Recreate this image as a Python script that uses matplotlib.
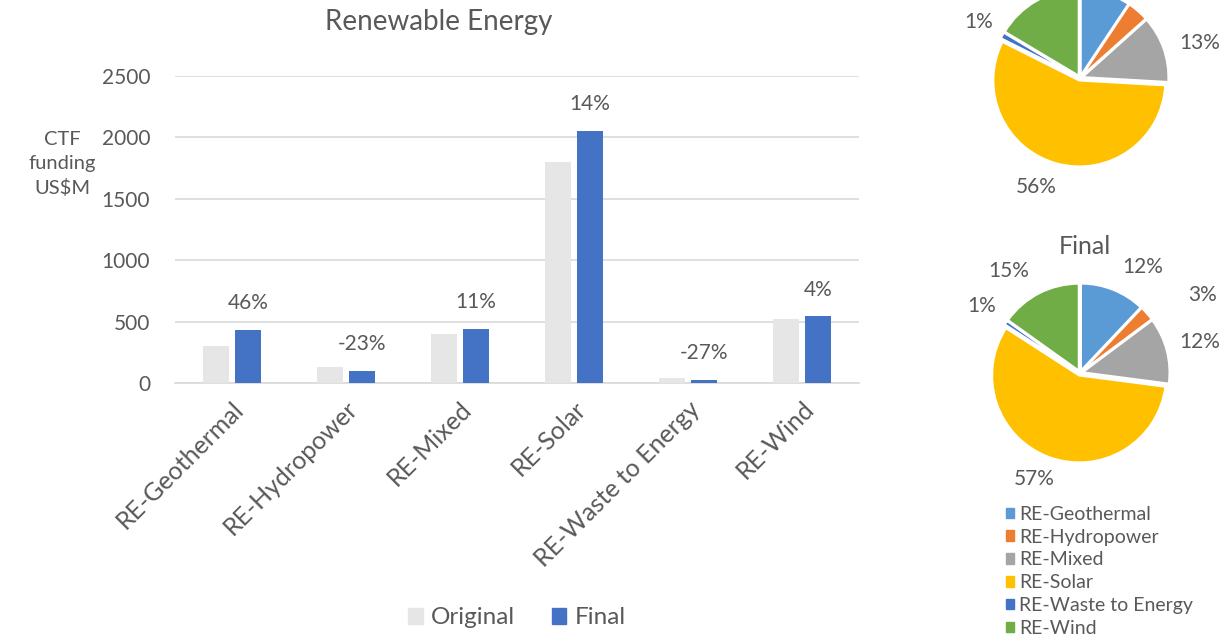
import matplotlib.pyplot as plt
import numpy as np
from matplotlib.patches import Patch

# data
categories = ["RE-Geothermal", "RE-Hydropower", "RE-Mixed", "RE-Solar",
              "RE-Waste to Energy", "RE-Wind"]
original = [298, 128, 399, 1800, 37, 524]
final = [434, 99, 442, 2055, 27, 545]
y_ticks = [0, 500, 1000, 1500, 2000, 2500]

pie_colors = ["#5B9BD5", "#ED7D31", "#A5A5A5", "#FFC000", "#4472C4", "#70AD47"]
ORIG_COLOR = "#E7E6E6"
FINAL_COLOR = "#4472C4"
TEXT = "#595959"

plt.rcParams["font.family"] = ["Lato", "DejaVu Sans"]

W, H = 1229, 639
fig = plt.figure(figsize=(W / 100, H / 100), dpi=100)


def px_axes(left, top, right, bottom):
    return fig.add_axes([left / W, 1 - bottom / H, (right - left) / W, (bottom - top) / H])


# ---- bar chart ----
ax = px_axes(175, 76, 859, 383)
x = np.arange(len(categories))
w = 0.225
ax.bar(x - 0.14, original, w, color=ORIG_COLOR, zorder=3)
ax.bar(x + 0.14, final, w, color=FINAL_COLOR, zorder=3)

for xi, o, f in zip(x, original, final):
    change = (f - o) / o * 100
    ax.annotate(f"{change:.0f}%", (xi + 0.14, f), xytext=(0, 19), textcoords="offset points",
                ha="center", va="center", fontsize=15, color=TEXT)

ax.set_xlim(-0.5, len(categories) - 0.5)
ax.set_ylim(0, 2500)
ax.set_yticks(y_ticks)
ax.set_xticks(x)
ax.set_xticklabels(categories, rotation=45, ha="right", rotation_mode="anchor")
ax.tick_params(axis="both", length=0, labelsize=15, labelcolor=TEXT)
ax.tick_params(axis="x", labelsize=18, pad=10)
ax.tick_params(axis="y", pad=18)
ax.grid(axis="y", color="#D9D9D9", linewidth=1.2, zorder=0)
for side in ["top", "right", "left"]:
    ax.spines[side].set_visible(False)
ax.spines["bottom"].set_color("#D9D9D9")
ax.spines["bottom"].set_linewidth(1.2)

fig.text(439 / W, 1 - 22 / H, "Renewable Energy", ha="center", va="center",
         fontsize=20, color=TEXT)
fig.text(62 / W, 1 - 164 / H, "CTF\nfunding\nUS$M", ha="center", va="center",
         fontsize=14.5, color=TEXT, linespacing=1.5)

fig.legend(handles=[Patch(color=ORIG_COLOR, label="Original"),
                    Patch(color=FINAL_COLOR, label="Final")],
           loc="center", bbox_to_anchor=(517 / W, 1 - 618 / H), ncol=2, frameon=False,
           fontsize=17.5, labelcolor=TEXT, handlelength=0.6, handleheight=0.6,
           handletextpad=0.35, columnspacing=1.5)


# ---- pies ----
def draw_pie(cx, cy, r, values, dist, nudge):
    lim = 1.06
    pax = px_axes(cx - lim * r, cy - lim * r, cx + lim * r, cy + lim * r)
    wedges, _ = pax.pie(values, colors=pie_colors, startangle=90, counterclock=False,
                        explode=[0.03] * len(values),
                        wedgeprops=dict(edgecolor="white", linewidth=1.5))
    pax.set_xlim(-lim, lim)
    pax.set_ylim(-lim, lim)
    total = sum(values)
    for wdg, v, d, n in zip(wedges, values, dist, nudge):
        ang = np.deg2rad((wdg.theta1 + wdg.theta2) / 2 - n)
        ty = cy - d * r * np.sin(ang)
        if ty < -5:
            continue  # label falls outside the cropped picture
        pax.text(d * np.cos(ang), d * np.sin(ang), f"{v / total * 100:.0f}%",
                 ha="center", va="center", fontsize=15, color=TEXT, clip_on=False)
    return pax


draw_pie(1080, 78, 86, original,
         dist=[1.4, 1.6, 1.45, 1.37, 1.35, 1.43], nudge=[0, 0, 3, 7, 0, -8])
draw_pie(1080, 373, 87, final,
         dist=[1.42, 1.67, 1.42, 1.33, 1.37, 1.43], nudge=[9, 9, 0, 3, 0, -8])
fig.text(1085 / W, 1 - 247 / H, "Final", ha="center", va="center", fontsize=18, color=TEXT)

fig.legend(handles=[Patch(color=c, label=n) for c, n in zip(pie_colors, categories)],
           loc="upper left", bbox_to_anchor=(996 / W, 1 - 496 / H), frameon=False,
           fontsize=14, labelcolor=TEXT, handlelength=0.45, handleheight=0.45,
           handletextpad=0.25, labelspacing=0.3, borderpad=0)

fig.savefig("out.png", dpi=100)
